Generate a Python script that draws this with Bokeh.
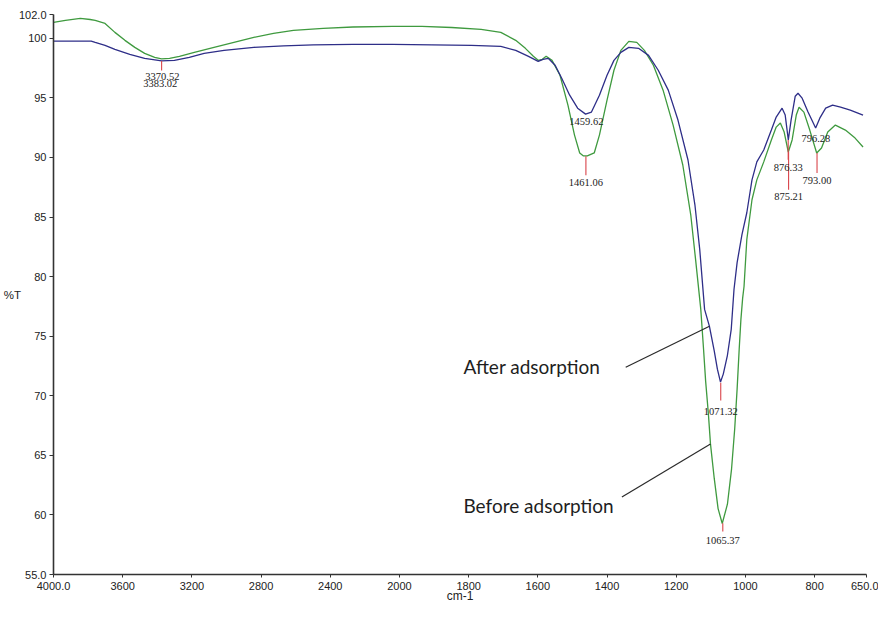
import numpy as np
from bokeh.plotting import figure
from bokeh.models import Range1d, FixedTicker, ColumnDataSource
from bokeh.embed import file_html
from bokeh.resources import INLINE
from bokeh.core.properties import value

# ---- data (wavenumber cm-1, %T) ----
before_wn = [4000, 3931, 3845, 3788, 3759, 3702, 3645, 3587, 3530, 3473, 3415, 3375, 3329, 3272,
             3186, 3072, 2957, 2842, 2728, 2613, 2441, 2269, 2040, 1935, 1849, 1764, 1707, 1664,
             1636, 1613, 1599, 1587, 1576, 1559, 1536, 1513, 1494, 1479, 1468, 1457, 1437, 1422,
             1400, 1380, 1360, 1337, 1314, 1292, 1266, 1238, 1209, 1181, 1158, 1144, 1129, 1121,
             1115, 1107, 1101, 1090, 1079, 1067, 1052, 1040, 1031, 1024, 1018, 1013, 1008, 1004,
             996, 981, 967, 947, 925, 911, 899, 888, 876, 865, 853, 845, 831, 814, 794, 780,
             762, 740, 711, 683, 660]
before_t = [101.33, 101.50, 101.67, 101.58, 101.50, 101.25, 100.50, 99.83, 99.24, 98.74, 98.40,
            98.28, 98.32, 98.49, 98.82, 99.24, 99.66, 100.08, 100.41, 100.66, 100.83, 100.95,
            101.00, 101.00, 100.91, 100.75, 100.50, 99.83, 99.16, 98.49, 98.15, 98.24, 98.49,
            98.15, 96.90, 94.39, 91.88, 90.38, 90.13, 90.13, 90.38, 91.88, 94.81, 97.32, 98.99,
            99.74, 99.66, 98.99, 97.74, 95.65, 92.72, 89.37, 85.19, 81.43, 77.25, 73.91, 71.23,
            68.47, 65.96, 63.04, 60.53, 59.28, 60.90, 63.87, 67.21, 70.56, 73.91, 76.41, 78.20,
            79.17, 83.10, 86.45, 88.12, 89.63, 91.47, 92.55, 92.89, 92.13, 90.46, 91.47, 93.56,
            94.22, 93.81, 92.30, 90.38, 90.80, 92.13, 92.72, 92.30, 91.63, 90.88]

after_wn = [4000, 3782, 3759, 3702, 3645, 3559, 3473, 3375, 3301, 3215, 3129, 3014, 2842, 2670,
            2498, 2269, 2040, 1906, 1792, 1707, 1664, 1627, 1599, 1585, 1570, 1550, 1531, 1508,
            1485, 1462, 1445, 1422, 1400, 1380, 1360, 1337, 1309, 1280, 1252, 1223, 1195, 1166,
            1146, 1132, 1118, 1104, 1090, 1081, 1072, 1064, 1052, 1041, 1033, 1024, 1010, 996,
            981, 967, 947, 925, 911, 894, 885, 876, 868, 856, 848, 836, 819, 797, 785, 768,
            748, 725, 697, 660]
after_t = [99.77, 99.77, 99.66, 99.41, 99.07, 98.66, 98.32, 98.11, 98.15, 98.40, 98.74, 98.99,
           99.24, 99.37, 99.45, 99.49, 99.49, 99.45, 99.41, 99.32, 98.99, 98.49, 98.07, 98.24,
           98.32, 97.74, 96.65, 95.23, 94.14, 93.64, 93.81, 95.23, 96.90, 98.15, 98.82, 99.24,
           99.16, 98.57, 97.32, 95.65, 93.14, 89.79, 86.03, 82.27, 77.25, 75.83, 73.74, 72.23,
           71.15, 71.82, 73.40, 75.58, 78.92, 81.18, 83.52, 85.36, 88.12, 89.63, 90.63, 92.30,
           93.39, 94.14, 93.56, 91.47, 93.14, 95.14, 95.39, 94.98, 93.81, 92.47, 93.30, 94.14,
           94.39, 94.22, 93.97, 93.56]

peak_text = ["3370.52", "3383.02", "1459.62", "1461.06", "1071.32", "1065.37",
             "876.33", "875.21", "796.28", "793.00"]
peak_wn = [3370.52, 3383.02, 1459.62, 1461.06, 1071.32, 1065.37, 876.33, 875.21, 796.28, 793.00]
peak_label_t = [96.8, 96.2, 93.05, 87.9, 68.7, 57.85, 89.2, 86.7, 91.6, 88.1]

marker_wn = [3375.0, 1461.06, 1071.32, 1065.37, 876.33, 875.21, 793.00]
marker_top = [98.1, 90.1, 71.1, 59.3, 91.47, 90.46, 90.38]
marker_bottom = [97.3, 88.5, 69.6, 58.6, 89.8, 87.3, 88.7]

x_ticks = [4000, 3600, 3200, 2800, 2400, 2000, 1800, 1600, 1400, 1200, 1000, 800, 650]
x_tick_labels = ["4000.0", "3600", "3200", "2800", "2400", "2000", "1800", "1600",
                 "1400", "1200", "1000", "800", "650.0"]
y_ticks = [55, 60, 65, 70, 75, 80, 85, 90, 95, 100, 102]
y_tick_labels = ["55.0", "60", "65", "70", "75", "80", "85", "90", "95", "100", "102.0"]

annot_text = ["After adsorption", "Before adsorption"]
annot_wn = [1815, 1815]
annot_t = [72.45, 60.8]
arrow_start_wn = [1346, 1357]
arrow_start_t = [72.4, 61.5]
arrow_end_wn = [1104, 1101]
arrow_end_t = [75.83, 65.96]


def warp(w):
    """Instrument x scale: region above 2000 cm-1 compressed by a factor of 2."""
    w = np.asarray(w, dtype=float)
    return np.where(w > 2000, 2000 + (w - 2000) / 2.0, w)


GREEN = "#3f9a3f"
BLUE = "#2e2e88"
RED = "#d9444a"
SERIF = "Liberation Serif"
SANS = "Liberation Sans"

p = figure(width=878, height=605, output_backend="svg", toolbar_location=None,
           x_range=Range1d(float(warp(4000)), 650), y_range=Range1d(55, 102),
           min_border_left=50, min_border_right=12, min_border_top=14, min_border_bottom=27)
p.outline_line_color = None
p.xgrid.visible = False
p.ygrid.visible = False
p.background_fill_color = "white"

p.line(warp(before_wn), before_t, line_color=GREEN, line_width=1.3)
p.line(warp(after_wn), after_t, line_color=BLUE, line_width=1.3)

p.segment(x0=warp(marker_wn), y0=marker_top, x1=warp(marker_wn), y1=marker_bottom,
          line_color=RED, line_width=1.1)

src = ColumnDataSource(dict(x=warp(peak_wn), y=peak_label_t, t=peak_text))
p.text(x="x", y="y", text="t", source=src, text_align="center", text_baseline="middle",
       text_font=value(SERIF), text_font_size="10.5px", text_color="#222222")

p.segment(x0=warp(arrow_start_wn), y0=arrow_start_t, x1=warp(arrow_end_wn), y1=arrow_end_t,
          line_color="#2a2a2a", line_width=1.2)
asrc = ColumnDataSource(dict(x=warp(annot_wn), y=annot_t, t=annot_text))
p.text(x="x", y="y", text="t", source=asrc, text_align="left", text_baseline="middle",
       text_font=value("Lato"), text_font_size="19px", text_color="#1e1e1e")

# axes
for ax in (p.xaxis[0], p.yaxis[0]):
    ax.axis_line_color = "#333333"
    ax.axis_line_width = 1.6
    ax.major_tick_line_color = "#333333"
    ax.minor_tick_line_color = None
    ax.major_tick_in = 0
    ax.major_label_text_font = SANS
    ax.major_label_text_font_size = "11px"
    ax.major_label_text_color = "#222222"
    ax.axis_label_text_font = SANS
    ax.axis_label_text_font_style = "normal"
    ax.axis_label_text_color = "#222222"

p.xaxis.ticker = FixedTicker(ticks=[float(v) for v in warp(x_ticks)])
p.xaxis.major_label_overrides = {float(u): lab for u, lab in zip(warp(x_ticks), x_tick_labels)}
p.xaxis.major_tick_out = 3
p.xaxis.major_label_standoff = 4
p.xaxis.axis_label = "cm-1"
p.xaxis.axis_label_text_font_size = "12px"
p.xaxis.axis_label_standoff = -4

p.yaxis.ticker = FixedTicker(ticks=y_ticks)
p.yaxis.major_label_overrides = {v: lab for v, lab in zip(y_ticks, y_tick_labels)}
p.yaxis.major_tick_out = 4
p.yaxis.major_label_standoff = 3
p.yaxis.axis_label = "%T"
p.yaxis.axis_label_orientation = "horizontal"
p.yaxis.axis_label_text_font_size = "11.5px"
p.yaxis.axis_label_standoff = -5

open("out.html", "w").write(file_html(p, INLINE))
